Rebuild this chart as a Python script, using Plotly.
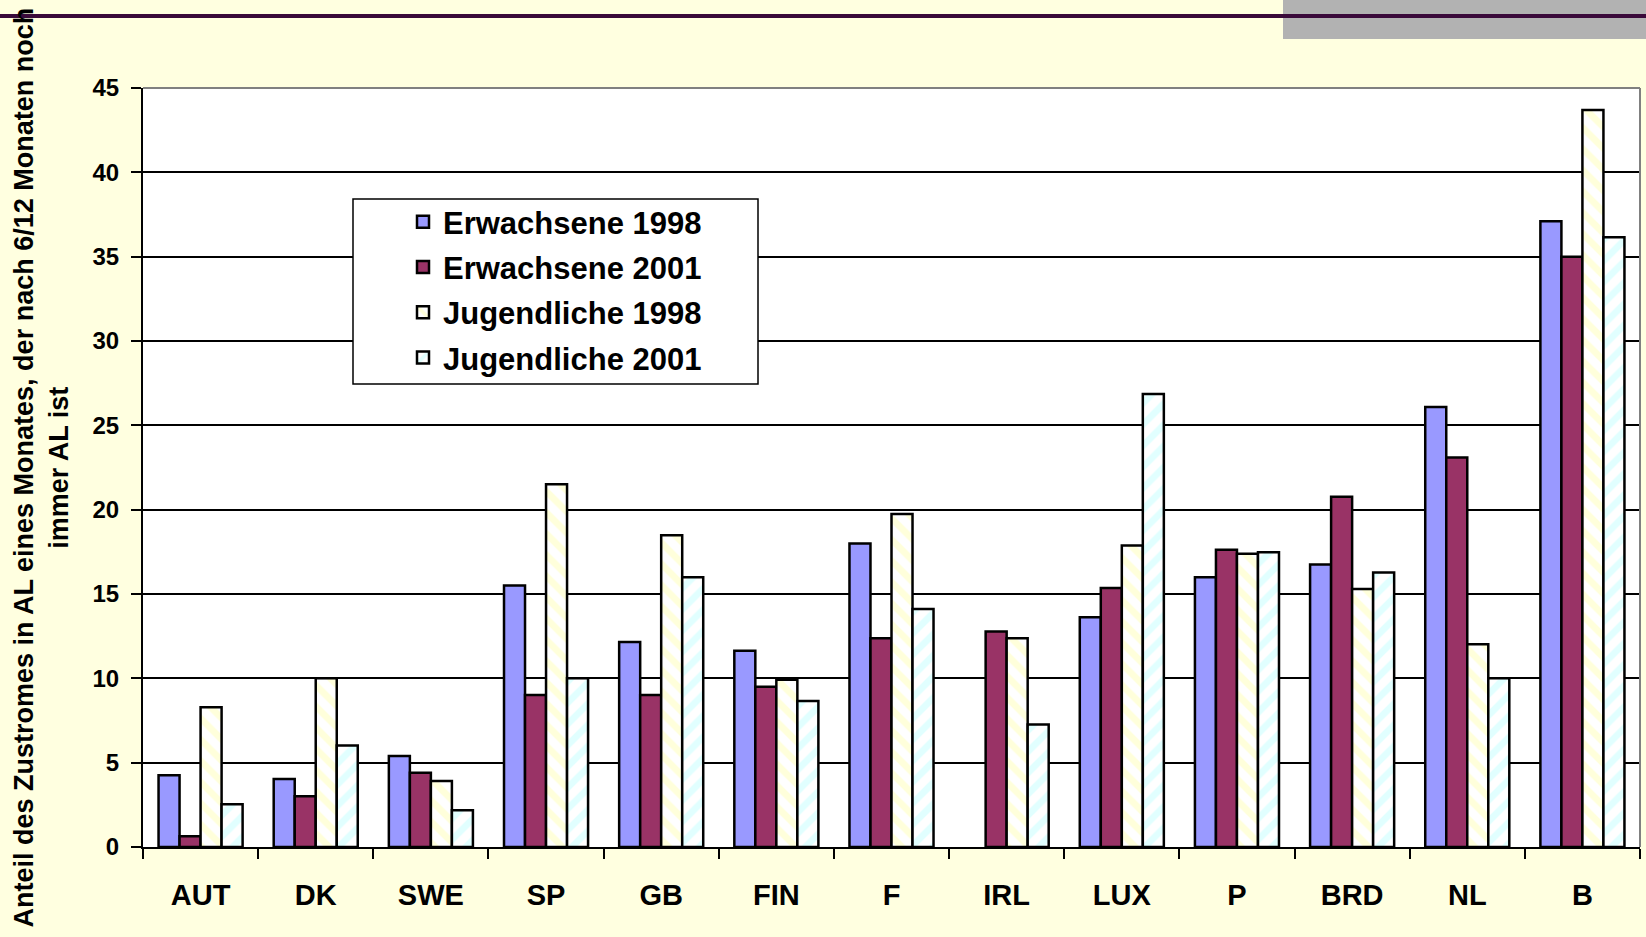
import plotly.graph_objects as go

categories = ["AUT", "DK", "SWE", "SP", "GB", "FIN", "F", "IRL", "LUX", "P", "BRD", "NL", "B"]
erwachsene_1998 = [4.26, 4.03, 5.39, 15.5, 12.16, 11.64, 18.0, None, 13.62, 16.0, 16.75, 26.09, 37.1]
erwachsene_2001 = [0.64, 3.01, 4.40, 9.01, 9.01, 9.5, 12.37, 12.77, 15.36, 17.62, 20.77, 23.1, 35.0]
jugendliche_1998 = [8.28, 10.0, 3.92, 21.5, 18.49, 9.92, 19.74, 12.37, 17.87, 17.38, 15.29, 12.02, 43.7]
jugendliche_2001 = [2.54, 6.02, 2.18, 10.0, 16.0, 8.65, 14.11, 7.27, 26.86, 17.48, 16.27, 10.0, 36.15]
series_names = ["Erwachsene 1998", "Erwachsene 2001", "Jugendliche 1998", "Jugendliche 2001"]
y_ticks = [0, 5, 10, 15, 20, 25, 30, 35, 40, 45]

W, H = 1646, 937
ML, MR, MT, MB = 143, 6, 88, 90
PW = W - ML - MR
PH = H - MT - MB

FONT = "Arial, Liberation Sans, sans-serif"

fig = go.Figure()
outline = dict(color="black", width=2.5)
fig.add_trace(go.Bar(x=categories, y=erwachsene_1998, name=series_names[0], legendgroup="a",
                     marker=dict(color="#9999FF", line=outline)))
fig.add_trace(go.Bar(x=categories, y=erwachsene_2001, name=series_names[1], legendgroup="b",
                     marker=dict(color="#993366", line=outline)))
fig.add_trace(go.Bar(x=categories, y=jugendliche_1998, name=series_names[2], legendgroup="c",
                     marker=dict(color="white", line=outline,
                                 pattern=dict(shape="\\", fgcolor="#FFFFB8", bgcolor="white",
                                              size=15, solidity=0.45, fillmode="overlay"))))
fig.add_trace(go.Bar(x=categories, y=jugendliche_2001, name=series_names[3], legendgroup="d",
                     marker=dict(color="white", line=outline,
                                 pattern=dict(shape="/", fgcolor="#C4FFFF", bgcolor="white",
                                              size=15, solidity=0.45, fillmode="overlay"))))

def px_x(px):
    return (px - ML) / PW

def px_y(py):
    return (H - MB - py) / PH

fig.update_layout(
    width=W, height=H,
    margin=dict(l=ML, r=MR, t=MT, b=MB, autoexpand=False),
    paper_bgcolor="#FFFFE0",
    plot_bgcolor="white",
    barmode="group",
    bargap=0.27,
    bargroupgap=0,
    font=dict(family=FONT, color="black"),
    legend=dict(
        x=px_x(403), y=px_y(195), xanchor="left", yanchor="top",
        bgcolor="rgba(0,0,0,0)", borderwidth=0,
        font=dict(size=31, family=FONT, weight="bold"),
        itemwidth=30,
        tracegroupgap=2,
    ),
    xaxis=dict(
        type="category",
        showline=True, linecolor="black", linewidth=2,
        ticks="outside", ticklen=10, tickwidth=2, tickcolor="black",
        tickson="boundaries",
        showgrid=False,
        tickfont=dict(size=29, family=FONT, weight="bold"),
        ticklabelstandoff=21,
    ),
    yaxis=dict(
        range=[0, 45], tickvals=y_ticks,
        showline=True, linecolor="black", linewidth=2,
        ticks="outside", ticklen=10, tickwidth=2, tickcolor="black",
        showgrid=True, gridcolor="black", gridwidth=2,
        zeroline=False,
        tickfont=dict(size=24, family=FONT, weight="bold"),
        ticklabelstandoff=7,
    ),
    showlegend=True,
)

# legend frame
fig.add_shape(type="rect", xref="paper", yref="paper",
              x0=px_x(353), x1=px_x(758), y0=px_y(384), y1=px_y(199),
              fillcolor="white", line=dict(color="black", width=1.5), layer="above")

# decorative header: gray box and dark purple rule
fig.add_shape(type="rect", xref="paper", yref="paper",
              x0=px_x(1283), x1=px_x(W + 5), y0=px_y(39), y1=px_y(-5),
              fillcolor="#B2B2B2", line=dict(width=0), layer="below")
fig.add_shape(type="line", xref="paper", yref="paper",
              x0=px_x(-5), x1=px_x(W + 5), y0=px_y(16), y1=px_y(16),
              line=dict(color="#3A0A3A", width=4))
# gray plot-area border top and right
fig.add_shape(type="line", xref="paper", yref="paper", x0=0, x1=1, y0=1, y1=1,
              line=dict(color="#808080", width=2))
fig.add_shape(type="line", xref="paper", yref="paper", x0=1, x1=1, y0=0, y1=1,
              line=dict(color="#808080", width=2))

fig.add_annotation(
    text="Anteil des Zustromes in AL eines Monates, der nach 6/12 Monaten noch<br>immer AL ist",
    xref="paper", yref="paper", x=px_x(41), y=0.5,
    xanchor="center", yanchor="middle", textangle=-90, showarrow=False,
    font=dict(size=27, family=FONT, weight="bold", color="black"),
)

fig.write_html("out.html", config={"displayModeBar": False},
               post_script="document.body.style.margin='0';")
